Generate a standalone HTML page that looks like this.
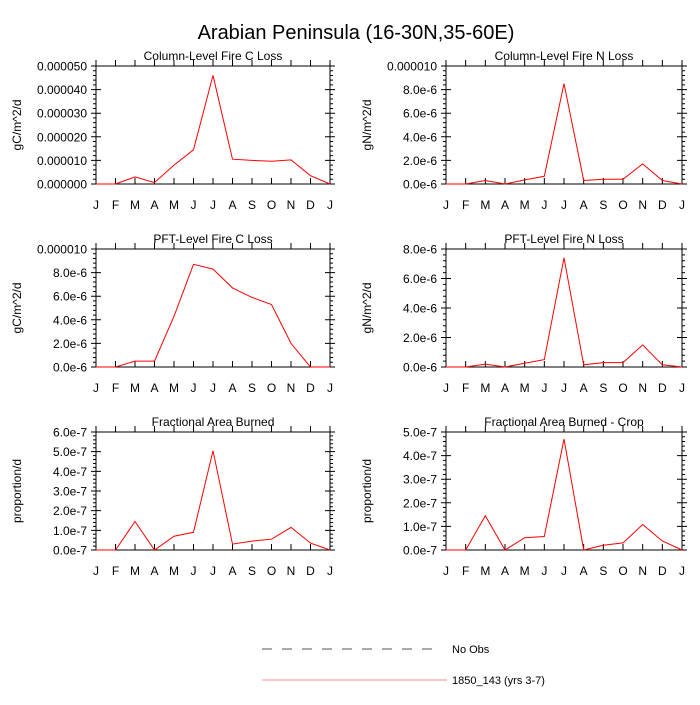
<!DOCTYPE html>
<html><head><meta charset="utf-8"><style>
html,body{margin:0;padding:0;background:#fff;}
svg text{font-family:"Liberation Sans",sans-serif;fill:#000;}
</style></head><body>
<svg id="chart" width="700" height="700" viewBox="0 0 700 700" xmlns="http://www.w3.org/2000/svg">
<text x="356" y="39" font-size="20" text-anchor="middle">Arabian Peninsula (16-30N,35-60E)</text>
<g>
<line x1="262" y1="649" x2="440" y2="649" stroke="#555" stroke-width="1" stroke-dasharray="10,10"/>
<text x="452" y="653" font-size="11">No Obs</text>
<line x1="262" y1="680" x2="447" y2="680" stroke="#f88" stroke-width="1"/>
<text x="452" y="684" font-size="11">1850_143 (yrs 3-7)</text>
</g>
</svg>
<script>
const months = ["J","F","M","A","M","J","J","A","S","O","N","D","J"];
const colCLoss = [0,0,3e-6,0.6e-6,8e-6,14.5e-6,46e-6,10.5e-6,10e-6,9.6e-6,10.2e-6,3.5e-6,0];
const colNLoss = [0,0,0.3e-6,0,0.35e-6,0.65e-6,8.5e-6,0.3e-6,0.4e-6,0.4e-6,1.7e-6,0.3e-6,0];
const pftCLoss = [0,0,0.5e-6,0.5e-6,4.3e-6,8.7e-6,8.3e-6,6.7e-6,5.9e-6,5.3e-6,2e-6,0,0];
const pftNLoss = [0,0,0.2e-6,0,0.25e-6,0.5e-6,7.4e-6,0.15e-6,0.3e-6,0.3e-6,1.5e-6,0.15e-6,0];
const fracBurned = [0,0,1.45e-7,0,0.7e-7,0.9e-7,5.05e-7,0.3e-7,0.45e-7,0.55e-7,1.15e-7,0.35e-7,0];
const fracBurnedCrop = [0,0,1.45e-7,0,0.52e-7,0.57e-7,4.7e-7,0,0.2e-7,0.3e-7,1.08e-7,0.38e-7,0];
const ticksColC = ["0.000000","0.000010","0.000020","0.000030","0.000040","0.000050"];
const ticksColN = ["0.0e-6","2.0e-6","4.0e-6","6.0e-6","8.0e-6","0.000010"];
const ticksPftC = ["0.0e-6","2.0e-6","4.0e-6","6.0e-6","8.0e-6","0.000010"];
const ticksPftN = ["0.0e-6","2.0e-6","4.0e-6","6.0e-6","8.0e-6"];
const ticksFrac = ["0.0e-7","1.0e-7","2.0e-7","3.0e-7","4.0e-7","5.0e-7","6.0e-7"];
const ticksCrop = ["0.0e-7","1.0e-7","2.0e-7","3.0e-7","4.0e-7","5.0e-7"];

const svg = document.getElementById('chart');
const NS = "http://www.w3.org/2000/svg";
function mk(tag, attrs, parent){const e=document.createElementNS(NS,tag);for(const k in attrs)e.setAttribute(k,attrs[k]);parent.appendChild(e);return e;}

function panel(name, title, ylabel, data, ticks, step, x0, x1, y0, y1){
  const g = mk('g',{},svg);
  
  
  const ymax = step*(ticks.length-1);
  const xs = i => x0 + (x1-x0)*i/(months.length-1);
  const ys = v => y1 - (y1-y0)*v/ymax;
  const t = mk('text',{x:(x0+x1)/2,y:y0-6,'font-size':12,'text-anchor':'middle'},g);
  
  
  t.textContent = title;
  const yl = mk('text',{x:0,y:0,'font-size':12,'text-anchor':'middle',transform:`translate(${x0-75},${(y0+y1)/2}) rotate(-90)`},g);
  
  
  yl.textContent = ylabel;
  let d='';
  for(let i=0;i<(ticks.length-1)*5;i++){
    const yy=ys(step*i/5);
    d+=`M${x0-3} ${yy}h3M${x1} ${yy}h3`;
  }
  ticks.forEach((lab,i)=>{
    const yy=ys(step*i);
    d+=`M${x0-5} ${yy}h10M${x1-5} ${yy}h10`;
    const tx=mk('text',{x:x0-9,y:yy+4.5,'font-size':12,'text-anchor':'end'},g);
    
    
    tx.textContent=lab;
  });
  months.forEach((m,i)=>{
    const xx=xs(i);
    d+=`M${xx} ${y1-6}v6M${xx} ${y0-6}v6`;
    const tx=mk('text',{x:xx,y:y1+25,'font-size':12,'text-anchor':'middle'},g);
    
    
    tx.textContent=m;
  });
  const ax=mk('path',{d:d,stroke:'#000','stroke-width':1,fill:'none'},g);
  
  
  const fr=mk('rect',{x:x0,y:y0,width:x1-x0,height:y1-y0,fill:'none',stroke:'#000','stroke-width':1},g);
  
  
  const pts=data.map((v,i)=>`${xs(i).toFixed(1)},${ys(v).toFixed(1)}`).join(' ');
  const ln=mk('polyline',{points:pts,fill:'none',stroke:'#f00','stroke-width':1},g);
  
  
}
panel('panel-column-c-loss','Column-Level Fire C Loss','gC/m^2/d',colCLoss,ticksColC,1e-5,96,330,66,184);
panel('panel-column-n-loss','Column-Level Fire N Loss','gN/m^2/d',colNLoss,ticksColN,2e-6,446,682,66,184);
panel('panel-pft-c-loss','PFT-Level Fire C Loss','gC/m^2/d',pftCLoss,ticksPftC,2e-6,96,330,249,367);
panel('panel-pft-n-loss','PFT-Level Fire N Loss','gN/m^2/d',pftNLoss,ticksPftN,2e-6,446,682,249,367);
panel('panel-frac-burned','Fractional Area Burned','proportion/d',fracBurned,ticksFrac,1e-7,96,330,432,550);
panel('panel-frac-burned-crop','Fractional Area Burned - Crop','proportion/d',fracBurnedCrop,ticksCrop,1e-7,446,682,432,550);
</script>
</body></html>
